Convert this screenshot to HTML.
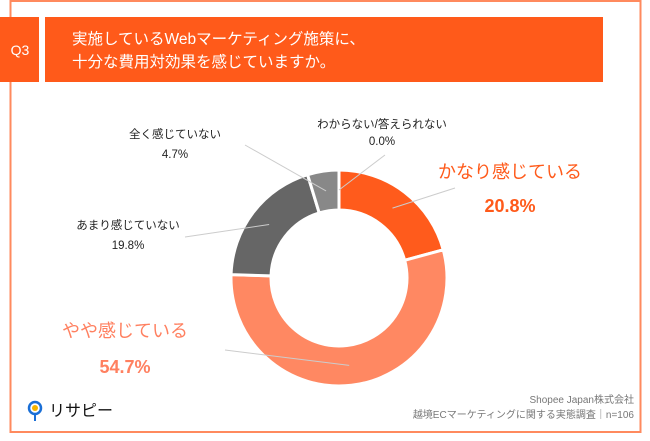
<!DOCTYPE html>
<html><head><meta charset="utf-8"><style>
body{margin:0;width:650px;height:436px;background:#fff;overflow:hidden;font-family:"Liberation Sans","Noto Sans CJK JP",sans-serif}
svg text{font-family:"Liberation Sans","Noto Sans CJK JP",sans-serif}
</style></head><body>
<svg width="650" height="436">
<rect x="10.5" y="1" width="630" height="431" fill="none" stroke="#FF8A5E" stroke-width="2"/>
<rect x="0" y="17" width="39" height="65" fill="#FF5A1A"/>
<text x="20" y="55" fill="#fff" font-size="14" text-anchor="middle">Q3</text>
<rect x="45" y="17" width="558" height="65" fill="#FF5A1A"/>
<text x="72" y="44" fill="#fff" font-size="15.5">実施しているWebマーケティング施策に、</text>
<text x="72" y="67" fill="#fff" font-size="15.5">十分な費用対効果を感じていますか。</text>
<g id="donut"></g>
<g id="labels"></g>
<g>
<circle cx="35" cy="408" r="6" fill="none" stroke="#1a6fd6" stroke-width="2.5"/>
<line x1="35" y1="414" x2="35" y2="421" stroke="#1a6fd6" stroke-width="2"/>
<circle cx="35" cy="408" r="3" fill="#f5b400"/>
<text x="49" y="416" font-size="16" fill="#111">リサピー</text>
</g>
<text x="634" y="403" font-size="10" fill="#777" text-anchor="end">Shopee Japan株式会社</text>
<text x="634" y="418" font-size="10" fill="#777" text-anchor="end">越境ECマーケティングに関する実態調査｜n=106</text>
</svg>
<script>
const categories=["かなり感じている","やや感じている","あまり感じていない","全く感じていない","わからない/答えられない"];
const values=[20.8,54.7,19.8,4.7,0.0];
const valueLabels=["20.8%","54.7%","19.8%","4.7%","0.0%"];
const colors=["#FF5B1C","#FF8862","#666666","#888888","#aaaaaa"];
const cx=339,cy=278,R=108,r=68,NS="http://www.w3.org/2000/svg";
const total=values.reduce((a,b)=>a+b,0);
function pt(a,rad){return [cx+rad*Math.sin(a),cy-rad*Math.cos(a)];}
const g=document.getElementById('donut');
let acc=0;const mids=[];
values.forEach((v,i)=>{
 const a0=acc/total*2*Math.PI;acc+=v;const a1=acc/total*2*Math.PI;mids.push((a0+a1)/2);
 if(v<=0)return;
 const lg=(a1-a0)>Math.PI?1:0;
 const p0=pt(a0,R),p1=pt(a1,R),q1=pt(a1,r),q0=pt(a0,r);
 const p=document.createElementNS(NS,'path');
 p.setAttribute('d',`M${p0} A${R},${R} 0 ${lg} 1 ${p1} L${q1} A${r},${r} 0 ${lg} 0 ${q0}Z`);
 p.setAttribute('fill',colors[i]);p.setAttribute('stroke','#fff');p.setAttribute('stroke-width','3');
 
 
 g.appendChild(p);
});
const L=document.getElementById('labels');
const place=[[510,178,212,18,"#FF5A1A",455,188],[125,337,373,18,"#FF8060",225,350],[128,229,249,11.5,"#222",185,237],[175,138,158,11.5,"#222",245,145],[382,128,145,11.5,"#222",385,155]];
place.forEach((pl,i)=>{
 const m=pt(mids[i],(R+r)/2);
 const ln=document.createElementNS(NS,'line');
 ln.setAttribute('x1',m[0]);ln.setAttribute('y1',m[1]);ln.setAttribute('x2',pl[5]);ln.setAttribute('y2',pl[6]);
 ln.setAttribute('stroke','#ccc');ln.setAttribute('stroke-width','1');
 
 
 L.appendChild(ln);
 const t1=document.createElementNS(NS,'text');
 t1.setAttribute('x',pl[0]);t1.setAttribute('y',pl[1]);t1.setAttribute('font-size',pl[3]);t1.setAttribute('fill',pl[4]);t1.setAttribute('text-anchor','middle');
 t1.textContent=categories[i];
 
 
 L.appendChild(t1);
 const t2=document.createElementNS(NS,'text');
 t2.setAttribute('x',pl[0]);t2.setAttribute('y',pl[2]);t2.setAttribute('font-size',pl[3]);t2.setAttribute('fill',pl[4]);t2.setAttribute('text-anchor','middle');
 if(pl[3]>12)t2.setAttribute('font-weight','bold');
 t2.textContent=valueLabels[i];
 
 
 L.appendChild(t2);
});
</script>
</body></html>
